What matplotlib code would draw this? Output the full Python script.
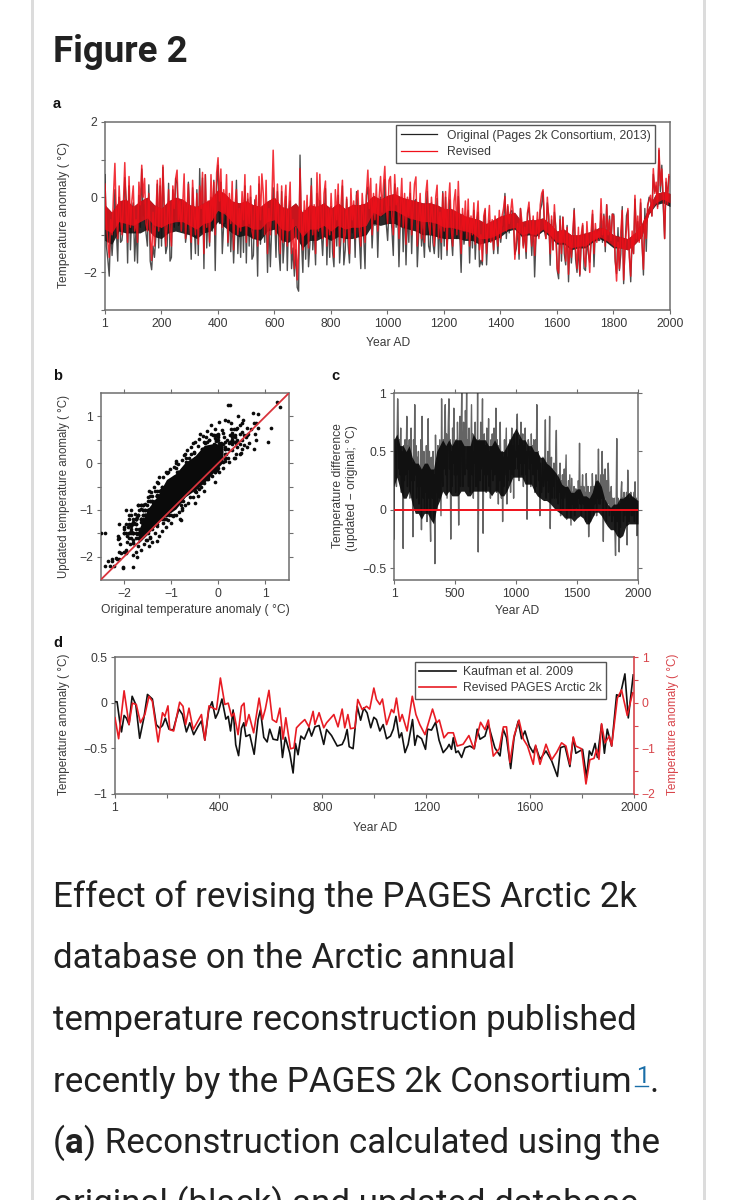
import numpy as np
import matplotlib
matplotlib.use("Agg")
import matplotlib.pyplot as plt

plt.rcParams['font.family'] = ['Liberation Sans', 'DejaVu Sans']

# panel a: revised reconstruction, read every 5 years
years_5yr = list(range(1, 2000, 5))
revised = [
    0.35, -0.7, -1.2, -1.6, -0.6, -1.0, 0.05, 0.90, -0.5, -1.1,
    0.3, -0.5, -1.0, -0.2, 0.92, -0.4, -1.2, 0.55, -0.8, -0.1,
    0.3, -0.9, -0.6, -1.2, 0.4, -0.2, 0.85, 0.0, 0.5, -0.7,
    -0.9, 0.1, -1.1, -1.68, -0.4, -1.3, -0.5, 0.45, -0.9, 0.5,
    -0.8, 0.85, -0.3, -1.3, -0.7, 0.2, -0.9, -1.3, 0.3, -0.3,
    0.5, 0.72, -0.6, -0.1, -0.9, -0.2, 0.62, -1.1, -0.4, 0.35,
    -0.7, -1.2, 0.45, -0.5, -1.0, 0.1, -1.25, 0.3, -0.3, 0.66,
    -1.5, 0.6, -0.8, -0.1, -1.2, 0.6, -0.6, 0.4, -1.0, 0.65,
    1.05, -0.1, 0.75, -0.8, 0.2, -0.4, 0.6, -1.2, 0.1, -0.7,
    0.42, -1.4, -0.2, 0.2, -1.0, -0.3, -0.9, 0.15, -0.6, 0.6,
    -1.2, 0.1, -0.7, 0.3, -0.9, -1.1, -0.2, 0.05, -1.3, 0.55,
    -0.6, 0.62, 0.1, -1.0, 0.45, -1.5, -0.3, -1.0, -0.2, 1.25,
    -0.1, -1.0, 0.35, -0.7, -1.5, 0.3, -1.2, -0.2, 0.32, -1.3,
    -0.3, 0.4, -1.5, -0.6, -1.9, -0.8, -2.2, -1.5, 0.76, -0.7,
    -1.4, -0.1, -0.9, 0.05, -1.35, -0.3, 0.3, -1.0, -0.2, -1.5,
    0.65, -0.9, 0.61, -0.6, -1.1, 0.1, 0.43, -1.3, -0.3, -1.0,
    0.1, -0.8, -1.6, 0.2, -0.6, 0.35, -1.3, -0.2, 0.45, -1.2,
    -1.0, 0.0, -0.7, -1.5, 0.23, -0.6, -0.1, -1.1, 0.05, 0.18,
    -0.9, -1.3, 0.1, -0.5, -1.2, 0.1, 0.72, -0.3, 0.5, -1.0,
    0.1, -0.6, 0.35, -0.9, 0.0, 0.55, -0.4, 0.3, 0.82, -0.2,
    -0.7, 0.45, 0.55, -0.5, -1.0, 0.6, -0.2, 0.25, -1.1, -0.3,
    0.5, -0.8, 0.1, -1.25, 0.0, -0.5, 0.4, -1.0, -0.3, 0.35,
    0.54, -1.3, -0.6, 0.1, -1.1, -0.2, -1.2, 0.1, 0.45, -0.7,
    -1.0, 0.0, -0.6, -1.3, 0.0, 0.32, -1.1, -0.4, -1.2, 0.1,
    -0.9, 0.15, -1.4, -0.2, 0.38, -0.8, -1.3, -0.1, 0.2, -1.0,
    0.42, -0.7, -1.5, -0.3, -0.9, -0.1, -1.1, -0.05, -1.3, -0.5,
    -1.0, -0.15, -1.25, -0.6, -0.1, -1.4, -1.0, -1.7, -0.5, -0.3,
    -1.5, -0.8, -0.22, -1.2, -0.6, -1.4, -0.5, -0.9, -1.3, -0.35,
    -1.1, -0.5, -0.3, 0.02, -0.9, -0.2, -0.7, -0.4, -0.05, -0.5,
    -1.65, -1.1, -0.7, -1.5, -0.3, -0.65, -1.35, -0.8, -1.45, -0.4,
    -0.13, -0.8, -1.3, -0.5, -1.55, -1.0, -0.4, -1.1, -0.2, 0.1,
    0.2, -0.7, -1.1, 0.0, -0.6, -1.5, -0.5, -1.4, -0.2, -1.0,
    -1.9, -2.02, -0.6, -1.5, -0.53, -1.2, -1.7, -0.8, -2.05, -1.0,
    -1.6, -0.9, -0.35, -1.4, -1.9, -0.8, -2.05, -1.0, -0.7, -1.6,
    -1.85, -0.65, -1.3, -2.0, -0.9, -0.35, -1.5, -0.7, -1.2, -0.9,
    -1.1, -0.04, -1.0, -0.5, -1.3, -0.2, -1.0, -0.6, -1.15, -0.45,
    -0.5, -1.6, -2.23, -1.2, -1.9, -0.9, -0.35, -2.2, -1.3, -0.85,
    -0.3, -1.6, -2.1, -0.9, -1.5, 0.05, -1.1, -0.5, -1.2, -0.05,
    -1.2, -1.92, -0.6, -1.1, -0.2, -0.1, 0.05, -0.5, 0.76, 0.1,
    0.4, -0.3, 1.3, 0.3, 0.75, 0.0, -1.1, 0.5, -0.2, 0.6,
]

# panel c: updated minus original, same years
difference = [
    -0.25, 0.6, 0.45, 0.5, 0.2, 0.55, 0.95, 0.7, 0.35, 0.6,
    0.3, 0.7, 0.15, 0.5, 0.4, -0.33, 0.55, 0.25, 0.6, 0.3,
    0.45, 0.8, 0.2, 0.55, 0.35, 0.6, 0.1, 0.5, 0.7, 0.25,
    0.4, -0.23, 0.6, 0.25, 0.9, 0.3, 0.55, 0.1, 0.45, 0.2,
    0.5, 0.05, 0.35, 0.2, 0.6, -0.17, 0.8, 0.3, 0.1, 0.5,
    0.0, 0.35, 0.15, 0.55, -0.1, 0.4, 0.78, 0.1, 0.5, -0.05,
    -0.27, 0.45, 0.2, 0.1, 0.5, -0.1, 0.3, -0.46, 0.64, 0.15,
    0.4, 0.0, 0.55, 0.25, 0.1, 0.6, 0.3, -0.05, 0.95, 0.35,
    0.2, 0.6, 0.35, 0.7, 0.9, 0.3, 0.65, 0.1, 0.45, 0.75,
    0.95, 0.35, 0.6, -0.25, 0.5, 0.2, 0.7, 0.4, 0.87, 0.3,
    0.55, 0.15, 0.6, 0.3, 0.75, 0.45, -0.13, 0.5, 0.8, 0.2,
    0.65, 1.0, 0.4, 0.2, 0.75, 0.5, 0.3, 0.85, 0.55, 1.0,
    0.35, 0.6, 0.2, 0.7, 0.45, 0.15, 0.55, 0.9, 0.3, 0.65,
    0.1, 0.5, 0.4, 0.75, 0.2, 0.6, 0.2, 1.0, -0.36, 0.45,
    0.6, 0.25, 0.75, 0.35, 0.5, 0.95, -0.2, 0.4, 0.65, 0.3,
    0.55, 0.15, 0.7, 0.3, 0.45, 0.78, 0.2, 0.5, 0.1, 0.6,
    0.35, 0.65, 0.25, 0.5, 0.7, 0.3, 0.45, 0.87, 0.15, 0.6,
    0.4, 0.05, 0.55, 0.25, 0.75, 0.35, 0.1, 0.5, -0.1, 0.45,
    0.2, 0.6, 0.3, 0.5, 0.7, 0.05, 0.45, 0.25, 0.55, 0.35,
    0.6, 0.15, 0.5, 0.7, 0.3, 0.55, 0.1, 0.65, 0.35, 0.5,
    0.45, 0.7, 0.82, 0.35, 0.55, 0.25, 0.6, 0.4, 0.75, 0.3,
    0.5, 0.65, 0.2, 0.55, 0.4, 0.7, 0.3, 0.5, -0.08, 0.45,
    0.6, 0.55, 0.35, 0.5, 0.2, 0.65, 0.4, 0.55, 0.3, 0.6,
    0.45, 0.15, 0.6, 0.2, 0.9, 0.35, 0.5, 0.25, 0.45, -0.05,
    0.4, 0.15, 0.15, 0.3, 0.45, 0.2, 0.25, 0.35, 0.77, 0.1,
    0.4, 0.25, 0.5, 0.15, 0.35, 0.8, -0.16, 0.3, 0.45, 0.1,
    0.35, 0.2, 0.4, 0.1, 0.3, 0.45, 0.68, 0.1, 0.25, 0.05,
    0.3, 0.15, 0.4, -0.05, 0.25, 0.1, 0.3, 0.0, 0.2, 0.35,
    0.1, 0.3, 0.47, -0.08, 0.2, 0.05, 0.25, 0.0, 0.3, 0.1,
    -0.13, 0.27, 0.05, 0.15, 0.0, 0.2, -0.05, 0.1, 0.18, 0.02,
    0.15, 0.0, 0.25, 0.1, 0.57, 0.05, 0.2, -0.05, 0.15, 0.3,
    0.05, 0.2, 0.0, 0.15, -0.1, 0.31, 0.1, 0.0, 0.2, -0.23,
    0.05, 0.15, -0.1, 0.2, 0.0, 0.31, 0.1, -0.05, 0.2, 0.05,
    0.15, 0.3, -0.05, 0.25, 0.1, 0.52, 0.05, 0.2, 0.05, 0.3,
    0.1, 0.5, 0.2, -0.27, 0.3, 0.1, 0.35, 0.15, -0.1, 0.25,
    0.05, 0.4, 0.2, -0.05, 0.15, 0.0, 0.2, -0.1, 0.1, 0.0,
    -0.05, 0.1, -0.2, -0.39, 0.05, 0.61, -0.1, 0.1, 0.0, -0.36,
    0.05, -0.15, 0.15, 0.24, 0.0, 0.1, -0.1, 0.15, -0.05, 0.1,
    0.0, 0.15, -0.3, 0.34, 0.05, -0.1, 0.1, 0.0, 0.15, -0.05,
    0.1, -0.05, 0.05, 0.15, -0.1, 0.24, 0.0, 0.1, -0.22, 0.05,
]

# the solid part of the bands in a and c, read every 25 years
years_25yr = list(range(0, 2001, 25))
revised_band_top = [
    -0.2, -0.4, -0.1, -0.05, -0.25, -0.1, 0.0, -0.2, -0.3, -0.1,
    0.0, -0.05, -0.2, -0.25, -0.15, -0.05, 0.2, 0.1, -0.1, -0.15,
    -0.1, -0.2, -0.25, -0.1, 0.0, -0.25, -0.3, -0.15, -0.4, -0.2,
    -0.25, -0.15, -0.3, -0.15, -0.3, -0.2, -0.2, -0.15, 0.05, -0.05,
    0.05, 0.1, 0.0, -0.05, -0.1, -0.15, -0.15, -0.2, -0.3, -0.3,
    -0.4, -0.5, -0.55, -0.6, -0.7, -0.6, -0.5, -0.45, -0.4, -0.65,
    -0.6, -0.6, -0.55, -0.7, -0.9, -0.85, -1.0, -1.0, -0.95, -0.9,
    -0.8, -0.85, -1.0, -1.05, -1.1, -0.95, -0.7, -0.25, 0.1, 0.15, 0.1,
]
revised_band_bottom = [
    -0.85, -0.95, -0.65, -0.7, -0.75, -0.65, -0.55, -0.75, -0.8, -0.7,
    -0.65, -0.65, -0.75, -0.85, -0.7, -0.65, -0.35, -0.45, -0.65, -0.8,
    -0.75, -0.85, -0.85, -0.65, -0.6, -0.85, -0.9, -0.75, -1.05, -0.85,
    -0.85, -0.75, -0.9, -0.75, -0.85, -0.8, -0.8, -0.75, -0.4, -0.5,
    -0.35, -0.35, -0.45, -0.55, -0.6, -0.65, -0.65, -0.7, -0.8, -0.8,
    -0.85, -0.9, -0.95, -1.1, -1.1, -1.05, -0.95, -0.85, -0.8, -1.0,
    -0.95, -1.0, -0.85, -1.0, -1.2, -1.2, -1.35, -1.3, -1.3, -1.15,
    -1.05, -1.15, -1.3, -1.35, -1.4, -1.25, -1.05, -0.45, -0.15, -0.05, -0.15,
]
original_band_bottom = [
    -1.15, -1.25, -0.9, -0.95, -0.95, -0.95, -0.85, -1.05, -1.1, -0.95,
    -0.9, -0.95, -1.0, -1.1, -0.95, -0.9, -0.65, -0.8, -0.95, -1.05,
    -1.0, -1.1, -1.15, -0.9, -0.85, -1.15, -1.2, -1.05, -1.35, -1.15,
    -1.15, -1.05, -1.15, -1.05, -1.1, -1.1, -1.05, -1.0, -0.7, -0.75,
    -0.7, -0.7, -0.8, -0.85, -0.9, -1.0, -1.0, -1.05, -1.1, -1.1,
    -1.1, -1.15, -1.15, -1.25, -1.2, -1.15, -1.05, -0.9, -0.85, -1.05,
    -1.0, -1.05, -0.9, -1.05, -1.25, -1.25, -1.4, -1.35, -1.35, -1.2,
    -1.1, -1.2, -1.35, -1.35, -1.4, -1.25, -1.05, -0.45, -0.2, -0.15, -0.25,
]
difference_band_top = [
    0.6, 0.65, 0.55, 0.55, 0.5, 0.55, 0.45, 0.4, 0.4, 0.35,
    0.4, 0.4, 0.35, 0.35, 0.5, 0.55, 0.6, 0.55, 0.6, 0.55,
    0.6, 0.6, 0.6, 0.55, 0.55, 0.55, 0.65, 0.6, 0.6, 0.6,
    0.6, 0.55, 0.55, 0.6, 0.55, 0.5, 0.5, 0.55, 0.6, 0.65,
    0.7, 0.65, 0.6, 0.6, 0.55, 0.55, 0.5, 0.5, 0.45, 0.45,
    0.4, 0.38, 0.35, 0.32, 0.28, 0.22, 0.2, 0.2, 0.15, 0.15,
    0.18, 0.18, 0.12, 0.12, 0.1, 0.15, 0.25, 0.25, 0.2, 0.1,
    0.05, 0.02, 0.05, 0.05, 0.1, 0.1, 0.12, 0.15, 0.12, 0.1, 0.08,
]
difference_band_bottom = [
    0.2, 0.28, 0.18, 0.1, 0.1, 0.16, 0.05, -0.03, -0.03, -0.08,
    -0.03, -0.03, -0.08, -0.12, 0.02, 0.08, 0.16, 0.12, 0.16, 0.12,
    0.12, 0.12, 0.16, 0.16, 0.12, 0.12, 0.16, 0.16, 0.16, 0.16,
    0.16, 0.16, 0.12, 0.16, 0.16, 0.12, 0.12, 0.16, 0.22, 0.28,
    0.28, 0.28, 0.28, 0.22, 0.22, 0.22, 0.16, 0.12, 0.1, 0.08,
    0.08, 0.06, 0.03, 0.0, -0.02, -0.04, -0.07, -0.07, -0.07, -0.1,
    -0.07, -0.05, -0.07, -0.12, -0.12, -0.07, -0.02, -0.02, -0.05, -0.1,
    -0.14, -0.17, -0.17, -0.22, -0.24, -0.22, -0.14, -0.12, -0.12, -0.12, -0.12,
]

# panel b: points read around the cloud, and the part that prints solid black
cloud_original = [
    -2.4, -2.35, -2.22, -2.15, -2.12, -2.08, -2.02, -2.0, -1.96, -1.94, -1.91, -1.9, -1.88, -1.85, -1.82,
    -1.8, -1.8, -1.78, -1.77, -1.75, -1.73, -1.72, -1.7, -1.68, -1.66, -1.65, -1.63, -1.62, -1.6, -1.58,
    -1.56, -1.55, -1.53, -1.52, -1.5, -1.48, -1.47, -1.45, -1.43, -1.42, -1.4, -1.38, -1.36, -1.35, -1.33,
    -1.31, -1.3, -1.28, -1.26, -1.25, -1.22, -1.2, -1.18, -1.17, -1.15, -1.12, -1.1, -1.08, -1.06, -1.04,
    -1.02, -1.0, -0.98, -0.96, -0.94, -0.92, -0.9, -0.88, -0.86, -0.84, -0.82, -0.8, -0.78, -0.76, -0.74,
    -0.72, -0.7, -0.68, -0.66, -0.64, -0.62, -0.6, -0.58, -0.56, -0.54, -0.52, -0.5, -0.48, -0.46, -0.44,
    -0.42, -0.4, -0.38, -0.36, -0.34, -0.32, -0.3, -0.28, -0.26, -0.24, -0.22, -0.2, -0.18, -0.16, -0.14,
    -0.12, -0.1, -0.08, -0.06, -0.04, -0.02, 0.0, 0.02, 0.04, 0.06, 0.08, 0.1, 0.12, 0.14, 0.16,
    0.18, 0.2, 0.22, 0.24, 0.26, 0.28, 0.3, 0.33, 0.36, 0.38, 0.42, 0.45, 0.48, 0.5, 0.55,
    0.58, 0.62, 0.66, 0.7, 0.74, 0.78, 0.8, 1.05, 1.3,
]
cloud_updated = [
    -1.5, -2.1, -2.2, -2.05, -1.63, -1.72, -2.24, -1.37, -1.92, -1.55, -1.36, -1.1, -1.72, -1.45, -2.22,
    -1.97, -1.65, -1.28, -1.08, -1.9, -1.52, -1.15, -1.78, -1.4, -1.62, -0.98, -1.85, -1.25, -1.5, -1.74,
    -0.88, -1.12, -1.65, -1.35, -0.72, -1.78, -1.0, -1.58, -0.62, -1.22, -1.68, -0.85, -0.52, -1.5, -1.05,
    -1.66, -0.68, -0.42, -1.55, -0.95, -0.58, -1.45, -0.3, -1.28, -0.76, -0.48, -1.36, -0.22, -1.22, -0.62,
    -0.12, -1.28, -0.38, -1.14, -0.08, -0.55, -1.12, -0.18, -0.02, -1.05, -0.32, -1.22, 0.06, -0.95, -0.12,
    0.18, -0.9, 0.02, 0.28, -0.85, 0.12, -0.72, 0.34, 0.05, -0.72, 0.22, 0.45, -0.62, 0.1, 0.36,
    -0.55, 0.52, 0.16, -0.5, 0.3, 0.58, -0.42, 0.42, 0.1, 0.68, -0.35, 0.5, 0.25, 0.82, -0.28,
    0.6, 0.36, -0.2, 0.72, 0.48, -0.15, 0.62, 0.88, 0.05, 0.42, 0.7, -0.1, 0.55, 0.92, 0.2,
    0.5, 1.25, 0.03, 0.6, 0.85, 0.28, 0.5, 0.72, 0.12, 0.42, 1.0, 0.62, 0.22, 0.85, 0.38,
    0.55, 0.62, 0.42, 0.72, 1.08, 0.62, 0.5, 0.45, 1.2,
]
solid_original = [-1.7, -1.5, -1.3, -1.1, -0.9, -0.7, -0.5, -0.3, -0.1, 0.1]
solid_bottom = [-1.72, -1.52, -1.3, -1.12, -0.98, -0.72, -0.58, -0.42, -0.2, 0.02]
solid_top = [-1.45, -0.98, -0.72, -0.35, -0.22, 0.02, 0.15, 0.38, 0.42, 0.4]

# panel d: smoothed series read at their turning points
kaufman_years = [
    1, 9, 19, 26, 36, 45, 55, 67, 81, 96, 112, 126, 145, 160, 173, 184, 195, 209,
    225, 247, 261, 276, 289, 304, 321, 334, 347, 362, 375, 388, 398, 413, 428, 437,
    446, 456, 466, 477, 488, 497, 505, 520, 537, 552, 561, 574, 587, 597, 610, 627,
    636, 646, 657, 674, 687, 696, 706, 717, 730, 748, 758, 771, 787, 805, 816, 835,
    857, 876, 886, 895, 903, 918, 934, 947, 959, 972, 986, 998, 1008, 1021, 1034,
    1047, 1062, 1073, 1083, 1096, 1105, 1118, 1130, 1147, 1156, 1165, 1182, 1197,
    1205, 1220, 1236, 1249, 1265, 1281, 1288, 1297, 1304, 1314, 1323, 1336, 1349,
    1368, 1385, 1396, 1407, 1426, 1439, 1464, 1484, 1496, 1509, 1525, 1538, 1554,
    1567, 1580, 1597, 1612, 1621, 1638, 1661, 1683, 1705, 1717, 1734, 1753, 1766,
    1776, 1802, 1817, 1828, 1837, 1850, 1859, 1875, 1886, 1897, 1914, 1933, 1946,
    1965, 1978, 1997,
]
kaufman = [
    0.01, 0.01, -0.2, -0.32, -0.14, -0.17, -0.24, 0.07, -0.02, -0.39, -0.17, 0.09,
    0.04, -0.24, -0.28, -0.25, -0.17, -0.29, -0.30, -0.07, -0.13, -0.32, -0.22,
    -0.35, -0.26, -0.20, -0.41, -0.08, 0.01, -0.17, -0.11, 0.04, -0.18, -0.15,
    -0.31, -0.08, -0.46, -0.58, -0.28, -0.22, -0.37, -0.35, -0.565, -0.185, -0.08,
    -0.38, -0.43, -0.29, -0.40, -0.41, -0.265, -0.60, -0.38, -0.55, -0.77, -0.446,
    -0.57, -0.366, -0.40, -0.275, -0.366, -0.265, -0.25, -0.457, -0.294, -0.36,
    -0.475, -0.457, -0.395, -0.294, -0.482, -0.504, -0.04, -0.192, -0.058, -0.112,
    -0.275, -0.16, -0.185, -0.31, -0.24, -0.395, -0.366, -0.29, -0.15, -0.384,
    -0.33, -0.547, -0.457, -0.185, -0.467, -0.359, -0.395, -0.511, -0.29, -0.30,
    -0.214, -0.41, -0.547, -0.493, -0.457, -0.511, -0.384, -0.547, -0.529, -0.60,
    -0.493, -0.475, -0.504, -0.29, -0.40, -0.366, -0.24, -0.493, -0.583, -0.29,
    -0.384, -0.721, -0.384, -0.203, -0.395, -0.31, -0.475, -0.547, -0.475, -0.62,
    -0.529, -0.638, -0.808, -0.493, -0.475, -0.70, -0.384, -0.554, -0.511, -0.82,
    -0.529, -0.576, -0.446, -0.60, -0.24, -0.554, -0.29, -0.475, 0.087, 0.069,
    0.315, -0.167, 0.304,
]
arctic_years = [
    1, 15, 36, 55, 68, 83, 99, 116, 132, 145, 167, 184, 193, 205, 212, 227, 250,
    263, 273, 286, 302, 334, 347, 363, 379, 392, 407, 424, 437, 450, 459, 475, 488,
    498, 505, 517, 535, 556, 569, 580, 594, 607, 623, 636, 648, 659, 677, 690, 700,
    715, 732, 748, 764, 771, 787, 805, 816, 844, 860, 876, 886, 898, 908, 925, 936,
    953, 970, 982, 998, 1008, 1021, 1031, 1047, 1066, 1075, 1085, 1098, 1107, 1126,
    1146, 1160, 1175, 1195, 1224, 1240, 1250, 1268, 1284, 1304, 1319, 1342, 1364,
    1383, 1409, 1426, 1439, 1458, 1481, 1497, 1509, 1522, 1538, 1557, 1574, 1590,
    1612, 1621, 1638, 1661, 1683, 1702, 1721, 1738, 1753, 1766, 1776, 1798, 1815,
    1830, 1846, 1856, 1865, 1875, 1888, 1905, 1914, 1936, 1952, 1974, 1995, 2000,
]
arctic = [
    -0.33, -0.79, 0.26, -0.48, -0.01, -0.04, -0.44, -0.26, 0.14, 0.03, -0.86,
    -0.22, -0.30, -0.07, -0.59, -0.62, 0.01, -0.08, -0.48, -0.12, -0.59, -0.26,
    -0.82, -0.07, -0.12, -0.15, 0.54, -0.04, -0.01, -0.30, -0.23, -0.70, -0.08,
    -0.01, -0.51, -0.26, -0.66, 0.10, -0.37, -0.14, 0.27, -0.37, -0.43, -0.12,
    -0.80, -0.33, -1.01, -0.99, -0.55, -0.46, -0.37, -0.53, -0.19, -0.48, -0.22,
    -0.55, -0.44, -0.26, -0.53, -0.14, -0.55, -0.26, -0.57, -0.55, 0.07, -0.15,
    -0.08, -0.14, 0.32, 0.07, -0.04, 0.08, -0.48, -0.15, -0.22, 0.10, -0.41, -0.26,
    -0.62, 0.14, -0.26, -0.48, -0.70, -0.14, -0.44, -0.38, -0.77, -0.66, -0.66,
    -0.95, -0.91, -0.72, -1.01, -0.43, -0.59, -0.38, -1.17, -1.01, -0.53, -0.53,
    -1.31, -0.73, -0.38, -0.80, -0.95, -1.35, -0.93, -1.35, -0.91, -1.25, -1.09,
    -0.88, -0.95, -1.35, -0.75, -0.95, -1.01, -1.78, -1.25, -1.22, -1.02, -1.24,
    -0.46, -0.88, -0.73, -0.95, 0.10, 0.28, -0.28, 0.22, 0.20,
]

TEXT = '#3a3a3a'
FRAME = '#6e6e6e'
RED = '#f0101a'
AXRED = '#d8444a'
W, H = 742, 1200

revised = np.array(revised)
difference = np.array(difference)
original = revised - difference

fig = plt.figure(figsize=(W / 100, H / 100), dpi=100)
fig.patch.set_facecolor('white')

page = fig.add_axes([0, 0, 1, 1], zorder=0)
page.set_xlim(0, W)
page.set_ylim(H, 0)
page.axis('off')


def panel(left, top, right, bottom):
    ax = fig.add_axes([left / W, 1 - bottom / H, (right - left) / W, (bottom - top) / H], zorder=2)
    for s in ax.spines.values():
        s.set_color(FRAME)
        s.set_linewidth(1.1)
    ax.tick_params(which='both', colors=FRAME, labelcolor=TEXT, labelsize=8.8, width=0.8, length=3, pad=2.5)
    return ax


def label(x, y, s, rotation=0, color=TEXT, size=8.7):
    page.text(x, y, s, rotation=rotation, color=color, fontsize=size, ha='center', va='center')


# panel a
ax = panel(105, 122, 670, 310)
ax.plot(years_5yr, original, color='#222222', lw=1.0, alpha=0.8, zorder=3, label='Original (Pages 2k Consortium, 2013)')
ax.fill_between(years_25yr, original_band_bottom, revised_band_top, color='#111111', lw=0, alpha=0.9, zorder=3)
ax.plot(years_5yr, revised, color=RED, lw=1.1, alpha=0.85, zorder=4, label='Revised')
ax.fill_between(years_25yr, revised_band_bottom, revised_band_top, color=RED, lw=0, alpha=0.8, zorder=4)
ax.set_xlim(1, 2000)
ax.set_ylim(-3, 2)
ax.set_xticks([1] + list(range(200, 2001, 200)))
ax.set_yticks([2, 0, -2])
ax.set_yticks([1, -1, -3], minor=True)
leg = ax.legend(loc='upper left', bbox_to_anchor=((396 - 105) / 565, 0.985), fancybox=False, framealpha=1,
                edgecolor='#555555', fontsize=8.7, borderaxespad=0, borderpad=0.4, labelspacing=0.4,
                handlelength=3.0, handletextpad=0.8)
leg.set_zorder(1)
for t in leg.get_texts():
    t.set_color(TEXT)
for h in leg.get_lines():
    h.set_linewidth(0.9)
    h.set_alpha(1)

# panel b
ax = panel(100.5, 393, 289, 580)
ax.fill_between(solid_original, solid_bottom, solid_top, color='#0a0a0a', lw=0, zorder=3)
ax.scatter(cloud_original, cloud_updated, s=7, color='#0a0a0a', linewidths=0, zorder=3)
ax.scatter(original, revised, s=7, color='#0a0a0a', linewidths=0, zorder=3)
ax.plot([-2.5, 1.5], [-2.5, 1.5], color='#d8343c', lw=1.3, zorder=4)
ax.set_xlim(-2.5, 1.5)
ax.set_ylim(-2.5, 1.5)
ax.set_xticks([-2, -1, 0, 1])
ax.set_yticks([1, 0, -1, -2])
ax.set_yticks([0.5, -0.5, -1.5], minor=True)
ax.tick_params(which='both', top=True, right=True)

# panel c
ax = panel(394, 393, 638, 580)
ax.plot(years_5yr, difference, color='#222222', lw=1.0, alpha=0.7, zorder=3)
ax.fill_between(years_25yr, difference_band_bottom, difference_band_top, color='#0a0a0a', lw=0, alpha=0.92, zorder=3)
ax.axhline(0, color=RED, lw=1.4, zorder=4)
ax.set_xlim(1, 2000)
ax.set_ylim(-0.6, 1)
ax.set_xticks([1, 500, 1000, 1500, 2000])
ax.set_xticklabels(['1', '500', '1000', '1500', '2000'])
ax.set_yticks([1, 0.5, 0, -0.5])
ax.set_yticklabels(['1', '0.5', '0', '\u22120.5'])
ax.tick_params(which='both', top=True, right=True)

# panel d
ax = panel(115, 657, 634, 794)
ax.spines['right'].set_visible(False)
ax.plot(kaufman_years, kaufman, color='#111111', lw=1.2, zorder=3, label='Kaufman et al. 2009')
ax.set_xlim(1, 2000)
ax.set_ylim(-1, 0.5)
ax.set_xticks([1, 400, 800, 1200, 1600, 2000])
ax.set_xticks([200, 600, 1000, 1400, 1800], minor=True)
ax.set_yticks([0.5, 0, -0.5, -1])
ax.set_yticklabels(['0.5', '0', '\u22120.5', '\u22121'])
ax2 = ax.twinx()
ax2.patch.set_visible(False)
ax2.set_zorder(3)
for k, s in ax2.spines.items():
    s.set_visible(k == 'right')
ax2.spines['right'].set_color(AXRED)
ax2.spines['right'].set_linewidth(1.2)
ax2.plot(arctic_years, arctic, color='#e81c24', lw=1.2, zorder=2, label='Revised PAGES Arctic 2k')
ax2.set_xlim(1, 2000)
ax2.set_ylim(-2, 1)
ax2.set_yticks([1, 0, -1, -2])
ax2.set_yticklabels(['1', '0', '\u22121', '\u22122'])
ax2.set_yticks([0.5, -0.5, -1.5], minor=True)
ax2.tick_params(which='both', colors=AXRED, labelcolor=AXRED, labelsize=8.8, width=0.8, length=3, pad=2.5)
handles = ax.get_lines() + ax2.get_lines()
leg = ax2.legend(handles, [h.get_label() for h in handles], loc='upper left',
                 bbox_to_anchor=((415 - 115) / 519, 0.965), fancybox=False, framealpha=1,
                 edgecolor='#555555', fontsize=8.8, borderaxespad=0, borderpad=0.35, labelspacing=0.35,
                 handlelength=3.0, handletextpad=0.6)
leg.set_zorder(1)
for t in leg.get_texts():
    t.set_color(TEXT)

# axis titles
label(388, 343, 'Year AD')
label(64, 215, 'Temperature anomaly ( °C)', rotation=90)
label(195, 610, 'Original temperature anomaly ( °C)')
label(64, 486, 'Updated temperature anomaly ( °C)', rotation=90, size=8.3)
label(338, 486, 'Temperature difference', rotation=90, size=8.7)
label(352, 488, '(updated \u2212 original; °C)', rotation=90, size=8.7)
label(517, 611, 'Year AD')
label(64, 724, 'Temperature anomaly ( °C)', rotation=90, size=8.5)
label(673, 724, 'Temperature anomaly ( °C)', rotation=90, color=AXRED, size=8.5)
label(375, 828, 'Year AD')

# panel letters
for x, y, s in [(53, 108, 'a'), (53, 380, 'b'), (331, 380, 'c'), (53, 647, 'd')]:
    page.text(x, y, s, fontsize=10.5, fontweight='bold', color='#111111', ha='left', va='baseline')

# page around the figure
page.axvspan(31, 34, color='#dcdcdc', lw=0)
page.axvspan(703, 706, color='#dcdcdc', lw=0)
page.text(53, 62, 'Figure 2', family='Roboto', fontweight='bold', fontsize=26.4, color='#212121', va='baseline')

BODY = '#212121'
BODY_SIZE = 25.1
lines = [
    (907, 'Effect of revising the PAGES Arctic 2k'),
    (968, 'database on the Arctic annual'),
    (1030, 'temperature reconstruction published'),
    (1092, 'recently by the PAGES 2k Consortium'),
    (1214, 'original (black) and updated database'),
]
for y, s in lines:
    page.text(53, y, s, family='Roboto', fontsize=BODY_SIZE, color=BODY, va='baseline')
page.text(636, 1083, '1', family='Roboto', fontsize=17, color='#1a6ea8', va='baseline')
page.plot([635, 648], [1085.5, 1085.5], color='#1a6ea8', lw=1)
page.text(649, 1092, '.', family='Roboto', fontsize=BODY_SIZE, color=BODY, va='baseline')
page.text(53, 1153, '(', family='Roboto', fontsize=BODY_SIZE, color=BODY, va='baseline')
page.text(65, 1153, 'a', family='Roboto', fontweight='bold', fontsize=BODY_SIZE, color=BODY, va='baseline')
page.text(84, 1153, ') Reconstruction calculated using the', family='Roboto', fontsize=BODY_SIZE, color=BODY, va='baseline')

fig.savefig('out.png', dpi=100)
